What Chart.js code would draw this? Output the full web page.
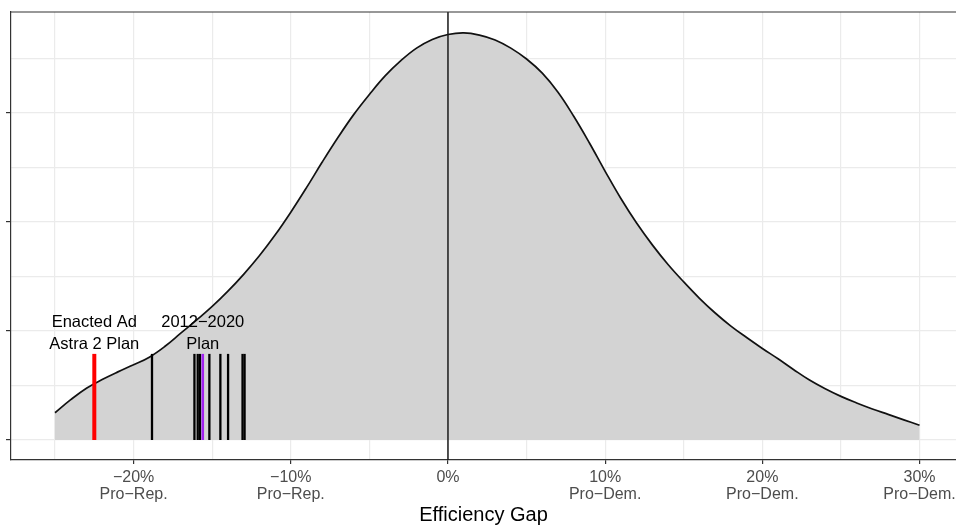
<!DOCTYPE html>
<html>
<head>
<meta charset="utf-8">
<script src="https://cdn.jsdelivr.net/npm/chart.js@4"></script>
<style>
  html, body { margin: 0; padding: 0; background: #fff; }
  #wrap { width: 956px; height: 527px; }
</style>
</head>
<body>
<div id="wrap"><canvas id="egChart"></canvas></div>
<script>
// Density of simulated efficiency gaps (x in %, y = density)
const gapPct = [-25, -24, -23, -22, -21, -20, -19, -18, -17, -16, -15, -14, -13, -12, -11, -10,
  -9, -8, -7, -6, -5, -4, -3, -2, -1, 0, 1, 2, 3, 4, 5, 6, 7, 8, 9, 10, 11, 12, 13, 14, 15,
  16, 17, 18, 19, 20, 21, 22, 23, 24, 25, 26, 27, 28, 29, 30];
const density = [0.50, 0.74, 0.95, 1.11, 1.25, 1.38, 1.52, 1.72, 1.96, 2.20, 2.45, 2.73, 3.04, 3.38, 3.76, 4.18,
  4.63, 5.10, 5.55, 5.97, 6.34, 6.68, 6.96, 7.19, 7.35, 7.44, 7.47, 7.43, 7.34, 7.19, 6.99, 6.73, 6.38, 5.94, 5.45, 4.93, 4.43, 3.98, 3.58, 3.22, 2.90,
  2.60, 2.33, 2.09, 1.88, 1.68, 1.49, 1.29, 1.10, 0.94, 0.80, 0.68, 0.57, 0.47, 0.37, 0.27];

// plan markers
const otherPlanGaps = [-18.83, -16.13, -15.92, -15.78, -15.18, -14.48, -13.99, -13.07, -12.94];
const enactedGap = -22.5;
const plan2012Gap = -15.6;
const markHeight = 1.58;

// annotations
const noteText = [['Enacted Ad', 'Astra 2 Plan'], ['2012\u22122020', 'Plan']];
const noteX = [-22.5, -15.6];
const noteY = [1.96, 1.96];

// axes
const xGridTicks = [-25, -20, -15, -10, -5, 0, 5, 10, 15, 20, 25, 30];
const xMajorTicks = [-20, -10, 0, 10, 20, 30];
const xTickLabels = [['\u221220%', 'Pro\u2212Rep.'], ['\u221210%', 'Pro\u2212Rep.'], ['0%'],
  ['10%', 'Pro\u2212Dem.'], ['20%', 'Pro\u2212Dem.'], ['30%', 'Pro\u2212Dem.']];
const yGridTicks = [0, 1, 2, 3, 4, 5, 6, 7];
const yMajorTicks = [0, 2, 4, 6];
const xRange = [-27.8, 32.32];
const yRange = [-0.367, 7.853];

const FONT = 'Liberation Sans, Arial, Helvetica, sans-serif';

function segment(x, color, width, order) {
  return {
    data: [{ x: x, y: 0 }, { x: x, y: markHeight }],
    borderColor: color,
    borderWidth: width,
    pointRadius: 0,
    fill: false,
    order: order
  };
}

const datasets = [
  {
    data: gapPct.map((x, i) => ({ x: x, y: density[i] })),
    borderColor: '#111',
    borderWidth: 1.7,
    backgroundColor: '#D3D3D3',
    fill: 'origin',
    pointRadius: 0,
    tension: 0.4,
    order: 10
  }
];
otherPlanGaps.forEach(g => datasets.push(segment(g, '#000', 2.3, 4)));
datasets.push(segment(enactedGap, '#FF0000', 4, 3));
datasets.push(segment(plan2012Gap, '#A020F0', 2.6, 2));

// zero line, top frame edge and the text notes
const overlay = {
  id: 'overlay',
  afterDatasetsDraw(chart) {
    const { ctx, chartArea, scales } = chart;
    const x0 = scales.x.getPixelForValue(0);
    ctx.save();
    ctx.strokeStyle = '#1a1a1a';
    ctx.lineWidth = 1.5;
    ctx.beginPath();
    ctx.moveTo(x0, chartArea.top);
    ctx.lineTo(x0, chartArea.bottom);
    ctx.stroke();

    ctx.strokeStyle = '#333';
    ctx.lineWidth = 1.2;
    ctx.beginPath();
    ctx.moveTo(chartArea.left, chartArea.top);
    ctx.lineTo(chartArea.right, chartArea.top);
    ctx.stroke();

    ctx.fillStyle = '#000';
    ctx.font = '16.5px ' + FONT;
    ctx.textAlign = 'center';
    ctx.textBaseline = 'middle';
    noteText.forEach((lines, i) => {
      const px = scales.x.getPixelForValue(noteX[i]);
      const py = scales.y.getPixelForValue(noteY[i]);
      lines.forEach((t, j) => {
        ctx.fillText(t, px, py + (j - (lines.length - 1) / 2) * 22);
      });
    });
    ctx.restore();
  }
};

new Chart(document.getElementById('egChart'), {
  type: 'line',
  data: { datasets: datasets },
  plugins: [overlay],
  options: {
    responsive: true,
    maintainAspectRatio: false,
    animation: false,
    layout: { padding: { top: 12, left: 0, right: 0, bottom: 0 } },
    plugins: { legend: { display: false }, tooltip: { enabled: false } },
    scales: {
      x: {
        type: 'linear',
        min: xRange[0],
        max: xRange[1],
        afterBuildTicks: axis => { axis.ticks = xGridTicks.map(v => ({ value: v })); },
        afterFit: s => { s.height = 67; s.paddingLeft = 0; s.paddingRight = 0; },
        border: { display: true, color: '#333', width: 1.2 },
        grid: {
          color: '#EBEBEB',
          lineWidth: 1.2,
          tickLength: 4,
          tickColor: c => xMajorTicks.includes(c.tick.value) ? '#333' : 'rgba(0,0,0,0)'
        },
        ticks: {
          autoSkip: false,
          maxRotation: 0,
          padding: 5,
          color: '#4D4D4D',
          font: { family: FONT, size: 16, lineHeight: 17 / 16 },
          callback: v => {
            const i = xMajorTicks.indexOf(v);
            return i >= 0 ? xTickLabels[i] : '';
          }
        },
        title: {
          display: true,
          text: 'Efficiency Gap',
          color: '#000',
          font: { family: FONT, size: 20 },
          padding: 0
        }
      },
      y: {
        min: yRange[0],
        max: yRange[1],
        afterBuildTicks: axis => { axis.ticks = yGridTicks.map(v => ({ value: v })); },
        afterFit: s => { s.width = 11; s.paddingTop = 0; s.paddingBottom = 0; },
        border: { display: true, color: '#333', width: 1.2 },
        grid: {
          color: '#EBEBEB',
          lineWidth: 1.2,
          tickLength: 5,
          tickColor: c => yMajorTicks.includes(c.tick.value) ? '#333' : 'rgba(0,0,0,0)'
        },
        ticks: { padding: 0, callback: () => '' }
      }
    }
  }
});
</script>
</body>
</html>
